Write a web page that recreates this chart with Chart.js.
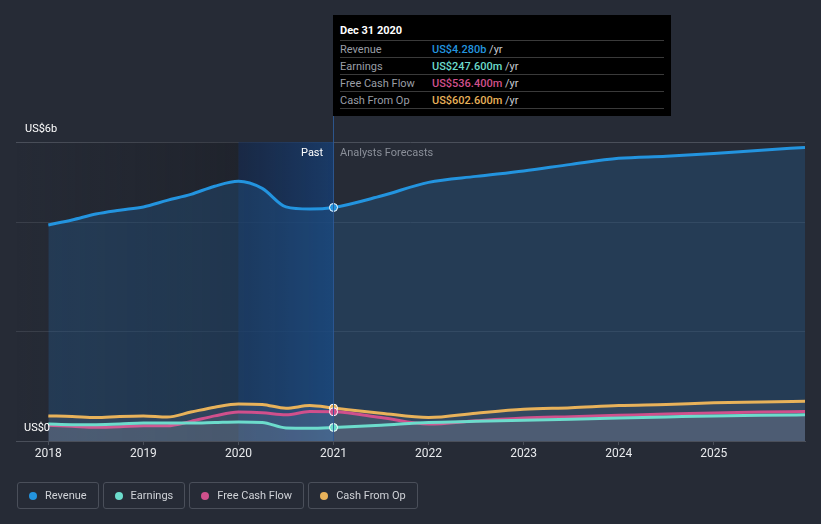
<!DOCTYPE html>
<html>
<head>
<meta charset="utf-8">
<script src="https://cdn.jsdelivr.net/npm/chart.js@4"></script>
<style>
  body { margin: 0; background: #262b36; font-family: Roboto, "Open Sans", sans-serif; }
  #wrap { position: relative; width: 821px; height: 524px; }
  canvas { position: absolute; left: 0; top: 0; }
  .lbl { position: absolute; font-size: 11px; color: #fff; white-space: nowrap; }
  #tip { position: absolute; left: 333px; top: 15px; width: 338px; height: 101px; background: #000; font-size: 11px; }
  #tip .title { position: absolute; left: 7px; top: 9px; color: #fff; font-weight: bold; }
  #tip .row { position: absolute; left: 7px; width: 324px; height: 17px; border-top: 1px solid #3a3a3a; color: #9a9ea6; line-height: 17px; }
  #tip .row span.v { position: absolute; left: 92px; font-weight: 500; }
  #tip .row span.u { color: #c8cbd0; font-weight: normal; }
  #legend { position: absolute; left: 17px; top: 482px; display: flex; gap: 4px; }
  #legend .item { box-sizing: border-box; height: 27px; border: 1px solid #4a4f5a; border-radius: 3px; display: flex; align-items: center; padding: 0 11px 0 11px; font-size: 11px; color: #d0d3d8; }
  #legend .dot { width: 8px; height: 8px; border-radius: 50%; margin-right: 8px; }
</style>
</head>
<body>
<div id="wrap">
  <canvas id="chart" width="821" height="524"></canvas>
  <div class="lbl" style="left:25px; top:122px;">US$6b</div>
  <div class="lbl" style="left:24px; top:421px;">US$0</div>
  <div class="lbl" style="left:301px; top:146px;">Past</div>
  <div class="lbl" style="left:340px; top:146px; color:#8a8f99;">Analysts Forecasts</div>
  <div id="tip"></div>
  <div id="legend"></div>
</div>
<script>
// dates in decimal years
const dates = [2018, 2018.25, 2018.5, 2018.75, 2019, 2019.25, 2019.5, 2019.75, 2020, 2020.25, 2020.5, 2020.75, 2021,
  2021.5, 2022, 2022.5, 2023, 2023.5, 2024, 2024.5, 2025, 2025.5, 2025.96];
// values in US$ millions
const revenue = [3960, 4050, 4160, 4230, 4290, 4410, 4520, 4670, 4760, 4630, 4290, 4250, 4280,
  4490, 4740, 4850, 4950, 5070, 5180, 5220, 5270, 5330, 5380];
const earnings = [310, 300, 300, 310, 330, 330, 330, 340, 350, 340, 240, 235, 248,
  290, 340, 360, 380, 400, 420, 440, 460, 470, 480];
const freeCashFlow = [290, 270, 250, 260, 280, 280, 360, 460, 530, 520, 480, 540, 536,
  430, 310, 370, 420, 445, 470, 495, 515, 530, 540];
const cashFromOp = [460, 450, 430, 450, 460, 440, 530, 620, 680, 670, 600, 650, 603,
  510, 430, 510, 580, 610, 650, 670, 700, 715, 730];
const yearTicks = [2018, 2019, 2020, 2021, 2022, 2023, 2024, 2025];

const seriesNames = ["Revenue", "Earnings", "Free Cash Flow", "Cash From Op"];
const seriesColors = ["#2394df", "#6cdccc", "#d0508c", "#e8b25a"];
const tipValues = ["US$4.280b", "US$247.600m", "US$536.400m", "US$602.600m"];
const hoverX = 2021;

// tooltip box
const tip = document.getElementById("tip");
tip.innerHTML = '<div class="title">Dec 31 2020</div>';
seriesNames.forEach((name, i) => {
  const row = document.createElement("div");
  row.className = "row";
  row.style.top = (25 + i * 17) + "px";
  row.innerHTML = name + '<span class="v" style="color:' + seriesColors[i] + '">' + tipValues[i] +
    ' <span class="u">/yr</span></span>';
  tip.appendChild(row);
});
const last = document.createElement("div");
last.className = "row";
last.style.top = (25 + 4 * 17) + "px";
last.style.height = "0";
tip.appendChild(last);

// legend
const legend = document.getElementById("legend");
seriesNames.forEach((name, i) => {
  const item = document.createElement("div");
  item.className = "item";
  item.innerHTML = '<span class="dot" style="background:' + seriesColors[i] + '"></span>' + name;
  legend.appendChild(item);
});

const pts = (vals) => dates.map((d, i) => ({ x: d, y: vals[i] }));

const bandPlugin = {
  id: "band",
  beforeDatasetsDraw(chart) {
    const { ctx, chartArea: a, scales: { x } } = chart;
    const x20 = x.getPixelForValue(2020), x21 = x.getPixelForValue(hoverX);
    ctx.save();
    let g = ctx.createLinearGradient(a.left, 0, x20, 0);
    g.addColorStop(0, "rgba(20,22,28,0)");
    g.addColorStop(1, "rgba(20,22,28,0.35)");
    ctx.fillStyle = g;
    ctx.fillRect(a.left, a.top, x20 - a.left, a.bottom - a.top);
    g = ctx.createLinearGradient(x20, 0, x21, 0);
    g.addColorStop(0, "rgba(20,40,75,0.7)");
    g.addColorStop(1, "rgba(22,62,115,0.8)");
    ctx.fillStyle = g;
    ctx.fillRect(x20, a.top, x21 - x20, a.bottom - a.top);
    ctx.restore();
  },
  afterDraw(chart) {
    const { ctx, chartArea: a, scales: { x } } = chart;
    const x21 = Math.round(x.getPixelForValue(hoverX)) - 0.5;
    ctx.save();
    ctx.strokeStyle = "rgba(45,90,150,0.9)";
    ctx.lineWidth = 1;
    ctx.beginPath();
    ctx.moveTo(x21, 15);
    ctx.lineTo(x21, a.bottom);
    ctx.stroke();
    ctx.restore();
  }
};

const dotRadius = (c) => (c.raw && c.raw.x === hoverX ? 4 : 0);

const lowFill = "rgba(200,205,215,0.09)";
const ds = (label, vals, color, fill) => ({
  label: label,
  data: pts(vals),
  borderColor: color,
  backgroundColor: fill,
  pointBackgroundColor: color,
  pointBorderColor: "#ffffff",
  pointBorderWidth: 1,
  pointRadius: dotRadius,
  borderWidth: 3,
  fill: "origin",
  cubicInterpolationMode: "monotone",
});

new Chart(document.getElementById("chart"), {
  type: "line",
  data: {
    datasets: [
      ds("Earnings", earnings, seriesColors[1], lowFill),
      ds("Free Cash Flow", freeCashFlow, seriesColors[2], lowFill),
      ds("Cash From Op", cashFromOp, seriesColors[3], lowFill),
      ds("Revenue", revenue, seriesColors[0], "rgba(36,100,160,0.3)"),
    ],
  },
  options: {
    responsive: false,
    animation: false,
    layout: { padding: { left: 16, right: 16, top: 142, bottom: 0 } },
    plugins: { legend: { display: false }, tooltip: { enabled: false } },
    scales: {
      x: {
        type: "linear",
        min: 2017.66,
        max: 2025.96,
        afterBuildTicks: (s) => { s.ticks = yearTicks.map((v) => ({ value: v })); },
        afterFit: (s) => { s.height = 83; },
        ticks: { color: "#e8eaed", font: { size: 12, family: "Roboto" }, padding: 2, callback: (v) => String(v) },
        grid: { drawOnChartArea: false, drawTicks: true, tickLength: 4, color: "#4a4f5a" },
        border: { display: true, color: "#4a4f5a" },
      },
      y: {
        min: 0,
        max: 5480,
        afterBuildTicks: (s) => { s.ticks = [0, 2000, 4000, 5480].map((v) => ({ value: v })); },
        afterFit: (s) => { s.width = 0; },
        ticks: { display: false },
        grid: { color: (c) => (c.tick.value === 5480 ? "#4a4f5a" : "#3a3f4a"), drawTicks: false },
        border: { display: false },
      },
    },
  },
  plugins: [bandPlugin],
});
</script>
</body>
</html>
